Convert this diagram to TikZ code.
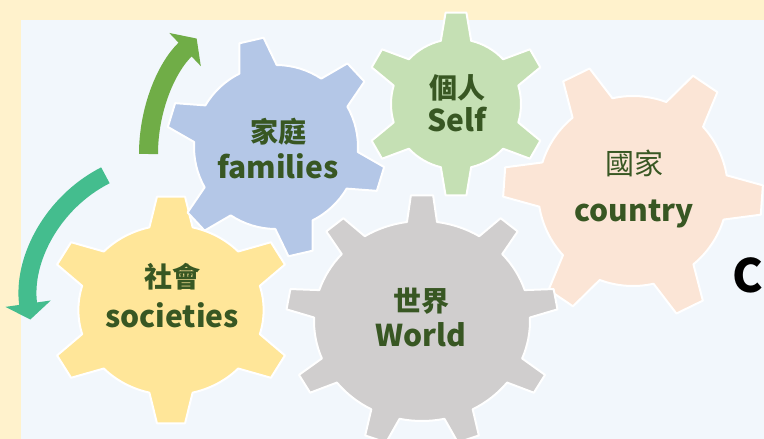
\documentclass[tikz,border=0pt]{standalone}
\usepackage{fontspec}
\setmainfont{Noto Sans CJK TC}
\usetikzlibrary{arrows.meta}

\definecolor{mCream}{HTML}{FFF2CC}
\definecolor{mPanel}{HTML}{F2F7FC}
\definecolor{mBlue}{HTML}{B4C7E7}
\definecolor{mGreen}{HTML}{C5E0B4}
\definecolor{mPink}{HTML}{FBE5D6}
\definecolor{mYellow}{HTML}{FFE699}
\definecolor{mGray}{HTML}{D0CECE}
\definecolor{mText}{HTML}{385723}
\definecolor{mArrowGreen}{HTML}{70AD47}
\definecolor{mArrowTeal}{HTML}{44BD8E}

% centre x, centre y, teeth, body radius, tip radius, first tooth angle, xscale, colour
\newcommand{\drawgear}[8]{%
  \ifnum#3=9 \def\gtip{4.7}\def\gbase{8}\else \def\gtip{6.5}\def\gbase{13.5}\fi
  \begin{scope}[shift={(#1,#2)}, yscale=-1, xscale=#7]
    \pgfmathsetmacro{\gstep}{360/#3}
    \fill[#8, draw=white, line width=2pt, line join=round] (#6-\gbase:#4)
      \foreach \k [evaluate=\k as \ang using #6+(\k-1)*360/#3] in {1,...,#3} {
        -- (\ang-\gtip:#5) -- (\ang+\gtip:#5) -- (\ang+\gbase:#4)
        arc[start angle=\ang+\gbase, end angle=\ang+\gstep-\gbase, radius=#4]
      } -- cycle;
  \end{scope}}

\begin{document}
\begin{tikzpicture}[x=1pt, y=-1pt,
  zh/.style={anchor=base, inner sep=0pt, text=mText, font=\bfseries\fontsize{28}{28}\selectfont},
  en/.style={anchor=base, inner sep=0pt, text=mText, font=\bfseries\fontsize{30}{30}\selectfont}]
\useasboundingbox (0,0) rectangle (764,439);
\clip (0,0) rectangle (764,439);

\fill[mCream] (0,0) rectangle (764,439);
\fill[mPanel] (21,20) rectangle (764,439);

\coordinate (up-start) at (148.5,154);
\coordinate (down-start) at (105.4,175.3);
\draw[mArrowGreen, line width=19pt, -{Triangle[width=45pt,length=16pt]}]
  (up-start) arc[start angle=180, end angle=229, x radius=140, y radius=153];
\draw[mArrowTeal, line width=18pt, -{Triangle[width=45pt,length=16pt]}]
  (down-start) arc[start angle=243, end angle=172, radius=140];

\drawgear{171}{310}{6}{85}{114}{90}{1.09}{mYellow}
\drawgear{276}{147}{6}{82}{110}{103}{1}{mBlue}
\drawgear{456}{104}{6}{65}{92}{90}{1}{mGreen}
\drawgear{633}{191}{6}{95}{130}{-4}{1}{mPink}
\drawgear{422}{321}{9}{100}{126}{90}{1.08}{mGray}

\node[zh] (family-zh) at (278,142) {家庭};
\node[en] (family-en) at (278,178) {families};
\node[zh] (self-zh) at (457,98) {個人};
\node[en] (self-en) at (457,131) {Self};
\node[zh, font=\fontsize{29}{29}\selectfont] (country-zh) at (634,174) {國家};
\node[en] (country-en) at (634,221) {country};
\node[zh] (society-zh) at (172,287) {社會};
\node[en] (society-en) at (172,327) {societies};
\node[zh] (world-zh) at (421,311) {世界};
\node[en] (world-en) at (421,346) {World};

\node[anchor=base west, inner sep=0pt, font=\bfseries\fontsize{46}{46}\selectfont] (cue) at (732,292) {C};
\end{tikzpicture}
\end{document}
